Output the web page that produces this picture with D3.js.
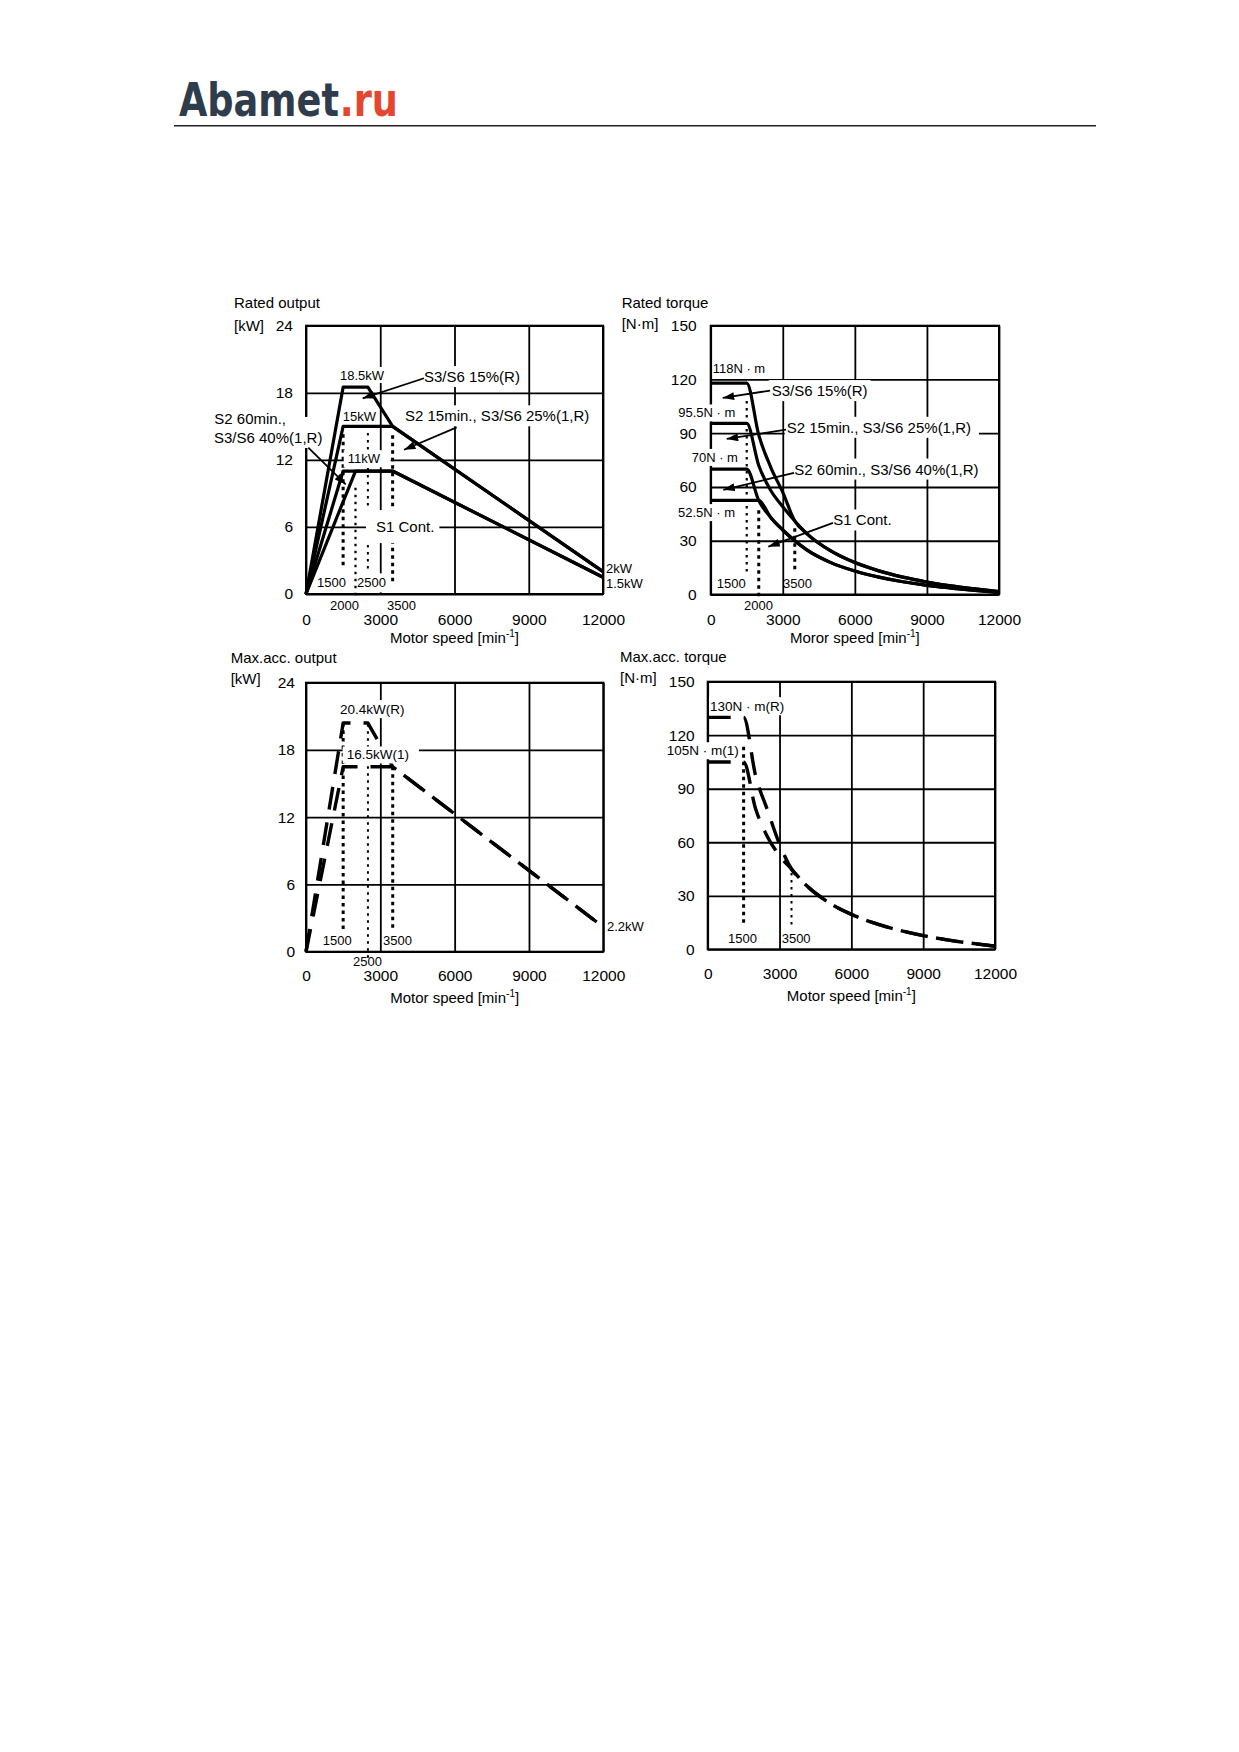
<!DOCTYPE html>
<html>
<head>
<meta charset="utf-8">
<title>Spindle motor output / torque characteristics</title>
<script src="https://d3js.org/d3.v7.min.js"></script>
<style>
  body { margin: 0; background: #fff; }
  svg text { font-family: "Liberation Sans", Arial, sans-serif; }
</style>
</head>
<body>
<div id="chart"></div>
<script>
    // ---- axis ticks ----
    var speedTicks = [0, 3000, 6000, 9000, 12000];
    var kwTicks = [0, 6, 12, 18, 24];
    var nmTicks = [0, 30, 60, 90, 120, 150];

    // ---- rated output [kW], pairs of [speed min-1, kW] ----
    var outS3S6_15 = [[0, 0], [1500, 18.5], [2500, 18.5], [3500, 15], [12000, 2]];
    var outS2_15 = [[0, 0], [1500, 15], [3500, 15], [12000, 2]];
    var outS2_60 = [[0, 0], [1500, 11], [3500, 11], [12000, 1.5]];
    var outS1 = [[0, 0], [2000, 11], [3500, 11], [12000, 1.5]];
    // guide lines: [speed, from, to]
    var outGuides = [[1500, 14.3, 2.5], [2000, 9.5, -0.4], [2500, 14.4, 2.1], [3500, 14.2, 1.0]];

    // ---- rated torque [N·m] ----
    var tqSpeeds = [0, 1500, 2000, 2500, 3000, 3500, 4000, 5000, 6000, 7000, 8000, 9000, 10000, 11000, 12000];
    var tqS3S6_15 = [118, 118, 89, 71, 57, 41, 34, 24.3, 17.8, 13.2, 9.7, 7.0, 4.8, 3.1, 1.6];
    var tqS2_15 = [95.5, 95.5, 72, 58, 49, 41, 34, 24.3, 17.8, 13.2, 9.7, 7.0, 4.8, 3.1, 1.6];
    var tqS2_60 = [70, 70, 52.5, 43, 36, 30, 24.9, 17.8, 13.1, 9.7, 7.1, 5.1, 3.6, 2.3, 1.2];
    var tqS1 = [52.5, 52.5, 52.5, 43, 36, 30, 24.9, 17.8, 13.1, 9.7, 7.1, 5.1, 3.6, 2.3, 1.2];
    var tqGuides = [[1500, 108, 12], [2000, 47, -1], [3500, 37, 12]];

    // ---- max. acceleration output [kW] ----
    var accOutR = [[0, 0], [1500, 20.4], [2500, 20.4], [3500, 16.5], [12000, 2.2]];
    var accOut1 = [[0, 0], [1500, 16.5], [3500, 16.5], [12000, 2.2]];
    var accOutGuides = [[1500, 20.4, 1.9], [2500, 20.3, -0.6], [3500, 16.5, 1.9]];

    // ---- max. acceleration torque [N·m] ----
    var accTqR = [130, 130, 97.4, 77.9, 59, 45, 37.4, 26.7, 19.6, 14.5, 10.7, 7.7, 5.3, 3.4, 1.75];
    var accTq1 = [105, 105, 78.8, 63, 52.5, 45, 37.4, 26.7, 19.6, 14.5, 10.7, 7.7, 5.3, 3.4, 1.75];
    var accTqGuides = [[1500, 113.5, 12.7], [3500, 42.8, 12.7]];

    var W = 1239, H = 1752;
    var svg = d3.select("#chart").append("svg")
        .attr("width", W)
        .attr("height", H)
        .style("background", "#fff");

    svg.append("defs").append("marker")
        .attr("id", "head")
        .attr("viewBox", "0 0 10 7")
        .attr("refX", 10).attr("refY", 3.5)
        .attr("markerWidth", 12).attr("markerHeight", 8)
        .attr("markerUnits", "userSpaceOnUse")
        .attr("orient", "auto")
        .append("path").attr("d", "M0,0L10,3.5L0,7Z").attr("fill", "#000");

    // header logo + rule
    var logoG = svg.append("g");
    var logoA = logoG.append("text")
        .attr("x", 0).attr("y", 0)
        .style("font-family", '"DejaVu Sans Condensed", "DejaVu Sans", sans-serif')
        .style("font-weight", "bold").style("font-size", "47px")
        .attr("fill", "#2e3c4b")
        .text("Abamet");
    var wA = logoA.node().getComputedTextLength();
    var logoB = logoG.append("text")
        .attr("x", wA + 1).attr("y", 0)
        .style("font-family", '"DejaVu Sans Condensed", "DejaVu Sans", sans-serif')
        .style("font-weight", "bold").style("font-size", "47px")
        .attr("fill", "#e4462f")
        .text(".ru");
    var wLogo = wA + 1 + logoB.node().getComputedTextLength();
    logoG.attr("transform", "translate(179,116) scale(" + (219 / wLogo) + ",1)");

    svg.append("line")
        .attr("x1", 174).attr("x2", 1096).attr("y1", 125.7).attr("y2", 125.7)
        .attr("stroke", "#222").attr("stroke-width", 1.6);

    function drawPanel(p) {
        var x = d3.scaleLinear().domain([0, 12000]).range([p.left, p.right]);
        var y = d3.scaleLinear().domain([0, p.ymax]).range([p.bottom, p.top]);
        var g = svg.append("g");
        var gridG = g.append("g"), guideG = g.append("g"), coverG = g.append("g"),
            lineG = g.append("g"), overG = g.append("g"), arrowG = g.append("g"), textG = g.append("g");

        gridG.append("g")
            .attr("transform", "translate(0," + p.bottom + ")")
            .call(d3.axisBottom(x).tickValues(speedTicks).tickFormat(d3.format("d"))
                .tickSize(-(p.bottom - p.top)).tickPadding(p.xPad));
        gridG.append("g")
            .attr("transform", "translate(" + p.left + ",0)")
            .call(d3.axisLeft(y).tickValues(p.yTicks).tickFormat(d3.format("d"))
                .tickSize(-(p.right - p.left)).tickPadding(p.yPad));
        gridG.selectAll(".domain").remove();
        gridG.selectAll(".tick line").attr("stroke", "#000").attr("stroke-width", 1.8);
        gridG.selectAll(".tick text").attr("font-size", 15.5).attr("fill", "#000");
        gridG.append("rect")
            .attr("x", p.left).attr("y", p.top)
            .attr("width", p.right - p.left).attr("height", p.bottom - p.top)
            .attr("fill", "none").attr("stroke", "#000").attr("stroke-width", 2);

        // dotted speed guides
        p.guides.forEach(function (d, i) {
            var w = p.guideWidths[i];
            guideG.append("line")
                .attr("x1", x(d[0])).attr("x2", x(d[0]))
                .attr("y1", y(d[1])).attr("y2", y(d[2]))
                .attr("stroke", "#000").attr("stroke-width", w)
                .attr("stroke-dasharray", w > 2.5 ? "3.5,4" : "2.5,4.5");
        });

        // characteristic curves
        var line = d3.line()
            .x(function (d) { return x(d[0]); })
            .y(function (d) { return y(d[1]); })
            .curve(p.smooth ? d3.curveMonotoneX : d3.curveLinear);
        p.series.forEach(function (s) {
            lineG.append("path")
                .attr("d", line(s))
                .attr("fill", "none").attr("stroke", "#000")
                .attr("stroke-width", p.dashed ? 3.4 : 3.2)
                .attr("stroke-linejoin", "round")
                .attr("stroke-dasharray", p.dashed ? "23,13" : null);
        });

        // arrows
        (p.arrows || []).forEach(function (a) {
            arrowG.append("line")
                .attr("x1", x(a[0][0])).attr("y1", y(a[0][1]))
                .attr("x2", x(a[1][0])).attr("y2", y(a[1][1]))
                .attr("stroke", "#000").attr("stroke-width", 1.8)
                .attr("marker-end", "url(#head)");
        });

        // labels (white box behind some of them)
        p.labels.forEach(function (l) {
            var t = textG.append("text")
                .attr("x", x(l.s)).attr("y", y(l.v))
                .attr("dominant-baseline", "central")
                .attr("font-size", l.fs)
                .attr("fill", "#000")
                .text(l.t);
            if (l.bg) {
                var b = t.node().getBBox();
                var pad = l.pad || [3, 3, 2, 2];
                (l.over ? overG : coverG).append("rect")
                    .attr("x", b.x - pad[0]).attr("y", b.y - pad[2])
                    .attr("width", b.width + pad[0] + pad[1])
                    .attr("height", b.height + pad[2] + pad[3])
                    .attr("fill", "#fff");
            }
        });

        // axis titles
        var xt = g.append("text")
            .attr("x", (p.left + p.right) / 2).attr("y", p.bottom + p.xTitleDy)
            .attr("text-anchor", "middle").attr("font-size", 15).attr("fill", "#000");
        xt.append("tspan").text(p.xTitle + " [min");
        xt.append("tspan").attr("dy", -6).attr("font-size", 10).text("-1");
        xt.append("tspan").attr("dy", 6).text("]");
        g.append("text")
            .attr("x", p.yTitleX).attr("y", p.top + p.yTitleDy[0])
            .attr("font-size", 15).attr("fill", "#000").text(p.yTitle);
        g.append("text")
            .attr("x", p.yTitleX).attr("y", p.top + p.yTitleDy[1])
            .attr("font-size", 15).attr("fill", "#000").text(p.yUnit);
    }

    drawPanel({
        left: 306, right: 603, top: 325.7, bottom: 594, ymax: 24, yTicks: kwTicks,
        xPad: 20, yPad: 13, xTitleDy: 49, xTitle: "Motor speed",
        yTitle: "Rated output", yUnit: "[kW]", yTitleX: 234, yTitleDy: [-18, 5],
        series: [outS3S6_15, outS2_15, outS2_60, outS1],
        guides: outGuides, guideWidths: [3, 2.2, 2, 3],
        arrows: [[[4768, 19.3], [2291, 17.5]], [[6089, 14.9], [3960, 12.9]], [[93, 13.1], [1604, 9.8]]],
        labels: [
            {t: "18.5kW", s: 1374, v: 19.55, fs: 13, bg: true, pad: [1, 2, 1, 0]},
            {t: "15kW", s: 1483, v: 15.9, fs: 13},
            {t: "11kW", s: 1685, v: 12.1, fs: 13, bg: true, pad: [4, 10, 1, 1]},
            {t: "S3/S6 15%(R)", s: 4768, v: 19.45, fs: 15, bg: true},
            {t: "S2 15min., S3/S6 25%(1,R)", s: 4000, v: 15.94, fs: 15, bg: true},
            {t: "S2 60min.,", s: -3705, v: 15.67, fs: 15},
            {t: "S3/S6 40%(1,R)", s: -3717, v: 14.0, fs: 15, bg: true, pad: [2, 2, 12, 2]},
            {t: "S1 Cont.", s: 2828, v: 6.03, fs: 15, bg: true, pad: [10, 5, 8, 8]},
            {t: "1500", s: 444, v: 1.0, fs: 13},
            {t: "2500", s: 2061, v: 1.0, fs: 13, bg: true, pad: [0, 1, 2, 2]},
            {t: "2000", s: 970, v: -1.0, fs: 13},
            {t: "3500", s: 3273, v: -1.0, fs: 13},
            {t: "2kW", s: 12121, v: 2.3, fs: 13},
            {t: "1.5kW", s: 12121, v: 0.96, fs: 13}
        ]
    });

    drawPanel({
        left: 710.7, right: 999, top: 325.7, bottom: 594.5, ymax: 150, yTicks: nmTicks,
        xPad: 19, yPad: 14, xTitleDy: 48, xTitle: "Moror speed",
        yTitle: "Rated torque", yUnit: "[N\u00b7m]", yTitleX: 621.7, yTitleDy: [-18, 3.5],
        smooth: true,
        series: [d3.zip(tqSpeeds, tqS3S6_15), d3.zip(tqSpeeds, tqS2_15),
                 d3.zip(tqSpeeds, tqS2_60), d3.zip(tqSpeeds, tqS1)],
        guides: tqGuides, guideWidths: [2.2, 3, 3],
        arrows: [[[2469, 113.8], [500, 109.7]], [[3135, 92.0], [666, 86.8]],
                 [[3468, 67.9], [525, 58.4]], [[5092, 40.0], [2398, 26.7]]],
        labels: [
            {t: "118N \u00b7 m", s: 83, v: 126, fs: 13},
            {t: "95.5N \u00b7 m", s: -1349, v: 101.3, fs: 13, bg: true, pad: [1, 1, 1, 1]},
            {t: "70N \u00b7 m", s: -791, v: 76.5, fs: 13, bg: true, pad: [1, 1, 1, 1]},
            {t: "52.5N \u00b7 m", s: -1361, v: 45.7, fs: 13, bg: true, pad: [1, 1, 1, 1]},
            {t: "S3/S6 15%(R)", s: 2540, v: 113.8, fs: 15, bg: true},
            {t: "S2 15min., S3/S6 25%(1,R)", s: 3164, v: 93.3, fs: 15, bg: true, pad: [2, 8, 2, 2]},
            {t: "S2 60min., S3/S6 40%(1,R)", s: 3480, v: 70, fs: 15, bg: true},
            {t: "S1 Cont.", s: 5104, v: 41.6, fs: 15, bg: true},
            {t: "1500", s: 250, v: 6.3, fs: 13},
            {t: "3500", s: 3010, v: 6.3, fs: 13},
            {t: "2000", s: 1386, v: -6.3, fs: 13}
        ]
    });

    drawPanel({
        left: 306, right: 603.3, top: 682.7, bottom: 951.7, ymax: 24, yTicks: kwTicks,
        xPad: 18, yPad: 11, xTitleDy: 51, xTitle: "Motor speed",
        yTitle: "Max.acc. output", yUnit: "[kW]", yTitleX: 230.7, yTitleDy: [-20, 1.5],
        dashed: true,
        series: [accOutR, accOut1],
        guides: accOutGuides, guideWidths: [3, 2, 3],
        labels: [
            {t: "20.4kW(R)", s: 1372, v: 21.6, fs: 13.5, bg: true, pad: [1, 2, 2, 1]},
            {t: "16.5kW(1)", s: 1643, v: 17.55, fs: 13.5, bg: true, over: true, pad: [4, 10, 1, 1]},
            {t: "2.2kW", s: 12150, v: 2.23, fs: 13},
            {t: "1500", s: 674, v: 1.04, fs: 13},
            {t: "3500", s: 3108, v: 1.04, fs: 13},
            {t: "2500", s: 1897, v: -0.89, fs: 13}
        ]
    });

    drawPanel({
        left: 707.7, right: 995, top: 681.7, bottom: 949.3, ymax: 150, yTicks: nmTicks,
        xPad: 19, yPad: 13, xTitleDy: 52, xTitle: "Motor speed",
        yTitle: "Max.acc. torque", yUnit: "[N\u00b7m]", yTitleX: 620, yTitleDy: [-20, 1.5],
        dashed: true, smooth: true,
        series: [d3.zip(tqSpeeds, accTqR), d3.zip(tqSpeeds, accTq1)],
        guides: accTqGuides, guideWidths: [3, 2],
        labels: [
            {t: "130N \u00b7 m(R)", s: 96, v: 136, fs: 13.5, bg: true, pad: [1, 2, 2, 1]},
            {t: "105N \u00b7 m(1)", s: -1712, v: 111.3, fs: 13.5, bg: true, pad: [1, 1, 1, 1]},
            {t: "1500", s: 848, v: 5.8, fs: 13},
            {t: "3500", s: 3090, v: 5.8, fs: 13}
        ]
    });
</script>
</body>
</html>
